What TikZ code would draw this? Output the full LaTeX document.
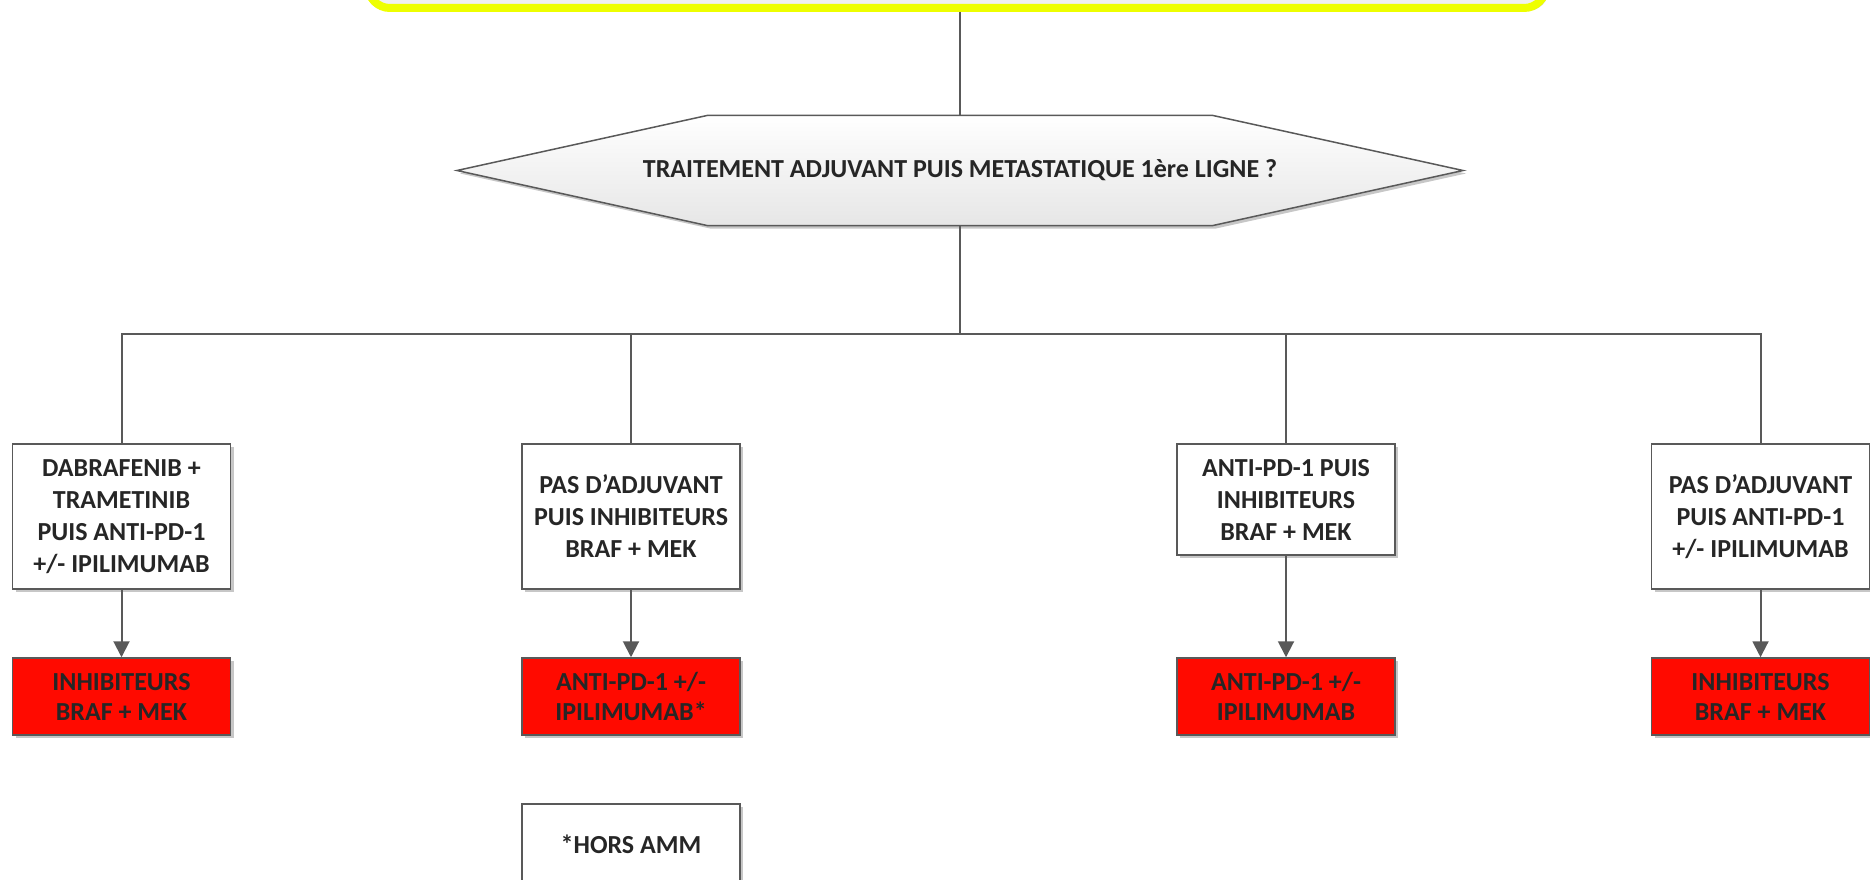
\documentclass[tikz,border=0pt]{standalone}
\usepackage{fontspec}
\setmainfont{Carlito}
\usetikzlibrary{arrows.meta,shadows,calc}
\definecolor{edge}{HTML}{595959}
\definecolor{ink}{HTML}{262626}
\definecolor{alert}{HTML}{FF0A00}
\definecolor{lemon}{HTML}{EEFF00}
\definecolor{panel}{HTML}{F0F0F0}
\definecolor{hexlow}{HTML}{E6E6E6}
\begin{document}
\begin{tikzpicture}[x=1pt,y=-1pt,
  font=\fontsize{26}{32}\selectfont\bfseries,
  every node/.style={text=ink},
  softshadow/.style={drop shadow={shadow xshift=3pt,shadow yshift=-3pt,opacity=.22,fill=black}},
  stepbox/.style={draw=edge,line width=1.5pt,fill=white,minimum width=218pt,
    minimum height=145pt,align=center,inner sep=0pt,softshadow},
  drugbox/.style={stepbox,fill=alert,minimum height=77pt,
    font=\fontsize{26}{30}\selectfont\bfseries},
  wire/.style={draw=edge,line width=2pt},
  arrow/.style={wire,-{Triangle[width=16pt,length=16pt]}}]

\useasboundingbox (0,0) rectangle (1870,880);

% heading panel, mostly above the page
\node[draw=lemon,line width=8pt,rounded corners=22pt,fill=panel,
  minimum width=1178pt,minimum height=96pt,softshadow] (top) at (957,-40) {};

% question hexagon
\coordinate (hc) at (960,170.5);
\path[draw=edge,line width=1.5pt,top color=white,bottom color=hexlow,softshadow]
  ($(hc)+(-503,0)$) -- ($(hc)+(-253,-55)$) -- ($(hc)+(253,-55)$) --
  ($(hc)+(503,0)$) -- ($(hc)+(253,55)$) -- ($(hc)+(-253,55)$) -- cycle;
\node[minimum width=1006pt,minimum height=110pt,inner sep=0pt] (hex) at (hc)
  {TRAITEMENT ADJUVANT PUIS METASTATIQUE 1ère LIGNE ?};

% previous treatments
\node[stepbox] (b1) at (121.5,516.5) {DABRAFENIB +\\TRAMETINIB\\PUIS ANTI-PD-1\\+/- IPILIMUMAB};
\node[stepbox] (b2) at (631,516.5) {PAS D’ADJUVANT\\PUIS INHIBITEURS\\BRAF + MEK};
\node[stepbox,minimum height=111pt] (b3) at (1286,499.5) {ANTI-PD-1 PUIS\\INHIBITEURS\\BRAF + MEK};
\node[stepbox] (b4) at (1760.5,516.5) {PAS D’ADJUVANT\\PUIS ANTI-PD-1\\+/- IPILIMUMAB};

% next line
\node[drugbox] (r1) at (121.5,696.5) {INHIBITEURS\\BRAF + MEK};
\node[drugbox] (r2) at (631,696.5) {ANTI-PD-1 +/-\\IPILIMUMAB*};
\node[drugbox] (r3) at (1286,696.5) {ANTI-PD-1 +/-\\IPILIMUMAB};
\node[drugbox] (r4) at (1760.5,696.5) {INHIBITEURS\\BRAF + MEK};

% footnote
\node[stepbox,minimum height=80pt] (note) at (631,844) {*HORS AMM};

% connectors
\coordinate (bus) at (960,334);
\draw[wire] (top.south -| hex.north) -- (hex.north);
\draw[wire] (hex.south) -- (bus);
\draw[wire] (b1.north) |- (bus) -| (b4.north);
\draw[wire] (b2.north) -- (b2.north |- bus);
\draw[wire] (b3.north) -- (b3.north |- bus);
\draw[arrow] (b1) -- (r1);
\draw[arrow] (b2) -- (r2);
\draw[arrow] (b3) -- (r3);
\draw[arrow] (b4) -- (r4);
\end{tikzpicture}
\end{document}
